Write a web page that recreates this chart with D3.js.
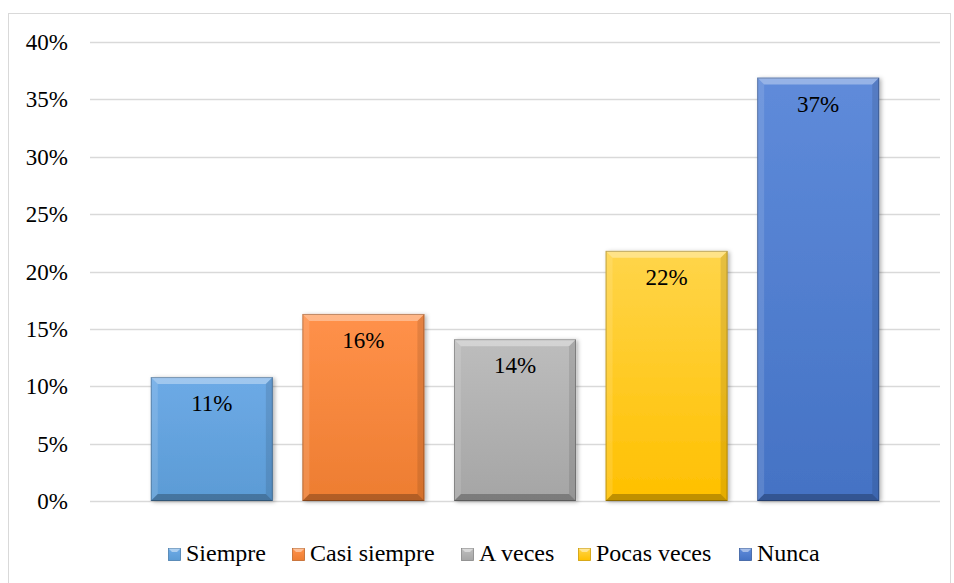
<!DOCTYPE html>
<html><head><meta charset="utf-8">
<script src="https://cdn.jsdelivr.net/npm/d3@7"></script>
<style>body{margin:0;background:#fff}svg{display:block}
text{font-family:"Liberation Serif","Times New Roman",serif !important;}
</style>
</head><body>
<script>
const categories = ["Siempre","Casi siempre","A veces","Pocas veces","Nunca"];
const values = [0.108, 0.163, 0.141, 0.218, 0.369];
const valueLabels = ["11%","16%","14%","22%","37%"];
const yTicks = [0,0.05,0.10,0.15,0.20,0.25,0.30,0.35,0.40];
const colors = ["#5B9BD5","#ED7D31","#A5A5A5","#FFC000","#4472C4"];
const lightColors = ["#6DAAE6","#FF914A","#BDBDBD","#FFD54A","#5F8BDA"];

const W=954,H=583;
const svg=d3.select("body").append("svg").attr("width",W).attr("height",H)
  .attr("font-family","Times New Roman");
const defs=svg.append("defs");
const FF="Times New Roman";

svg.append("rect").attr("x",8.5).attr("y",13.5).attr("width",942).attr("height",600)
  .attr("fill","#fff").attr("stroke","#d9d9d9").attr("stroke-width",1);

const y=d3.scaleLinear().domain([0,0.4]).range([501,42]);
const x=d3.scaleBand().domain(categories).range([136,894]).paddingInner(0.195).paddingOuter(0.0975);

svg.append("g").selectAll("line").data(yTicks).join("line")
  .attr("x1",90).attr("x2",940)
  .attr("y1",d=>Math.round(y(d))+0.5).attr("y2",d=>Math.round(y(d))+0.5)
  .attr("stroke","#d9d9d9").attr("stroke-width",1.3);

const yAxis=d3.axisLeft(y).tickValues(yTicks).tickFormat(d3.format(".0%")).tickSize(0).tickPadding(0);
const ga=svg.append("g").attr("transform","translate(68,0)").call(yAxis);
ga.select(".domain").remove();
ga.attr("font-family",FF).attr("font-size",23);
ga.selectAll("text").attr("font-family",FF).attr("font-size",23).attr("fill","#000")
  .attr("dy",null).attr("y",7.5);

categories.forEach((c,i)=>{
  const g=defs.append("linearGradient").attr("id","g"+i).attr("x1",0).attr("y1",0).attr("x2",0).attr("y2",1);
  g.append("stop").attr("offset","0%").attr("stop-color",lightColors[i]);
  g.append("stop").attr("offset","100%").attr("stop-color",colors[i]);
});
const f=defs.append("filter").attr("id","sh").attr("x","-10%").attr("y","-10%").attr("width","130%").attr("height","130%");
f.append("feDropShadow").attr("dx",2).attr("dy",1).attr("stdDeviation",2).attr("flood-color","#000").attr("flood-opacity",0.3);

const bars=svg.append("g").selectAll("g").data(categories).join("g");
const bw=x.bandwidth(), b=7;
bars.append("rect")
  .attr("x",d=>x(d)).attr("y",(d,i)=>y(values[i]))
  .attr("width",bw).attr("height",(d,i)=>y(0)-y(values[i]))
  .attr("fill",(d,i)=>`url(#g${i})`).attr("filter","url(#sh)");
function bev(sel, fn, fill){
  sel.append("path").attr("d",(d,i)=>{
    const x0=x(d),x1=x0+bw,y0=y(values[i]),y1=y(0);
    return fn(x0,x1,y0,y1);
  }).attr("fill",fill);
}
bev(bars,(x0,x1,y0,y1)=>`M${x0},${y0}L${x1},${y0}L${x1-b},${y0+b}L${x0+b},${y0+b}Z`,"rgba(255,255,255,0.35)");
bev(bars,(x0,x1,y0,y1)=>`M${x0},${y0}L${x0+b},${y0+b}L${x0+b},${y1-b}L${x0},${y1}Z`,"rgba(255,255,255,0.12)");
bev(bars,(x0,x1,y0,y1)=>`M${x1},${y0}L${x1},${y1}L${x1-b},${y1-b}L${x1-b},${y0+b}Z`,"rgba(0,0,0,0.10)");
bev(bars,(x0,x1,y0,y1)=>`M${x0},${y1}L${x0+b},${y1-b}L${x1-b},${y1-b}L${x1},${y1}Z`,"rgba(0,0,0,0.25)");
bars.append("rect")
  .attr("x",d=>x(d)+0.5).attr("y",(d,i)=>y(values[i])+0.5)
  .attr("width",bw-1).attr("height",(d,i)=>y(0)-y(values[i])-1)
  .attr("fill","none").attr("stroke","rgba(0,0,0,0.25)").attr("stroke-width",1);

bars.append("text").attr("x",d=>x(d)+bw/2).attr("y",(d,i)=>y(values[i])+34)
  .attr("text-anchor","middle").attr("font-family",FF).attr("font-size",23).attr("fill","#000")
  .text((d,i)=>valueLabels[i]);

const legX=[168,292,461,578,739];
const leg=svg.append("g").selectAll("g").data(categories).join("g")
  .attr("transform",(d,i)=>`translate(${legX[i]},548)`);
leg.append("rect").attr("x",0.5).attr("y",0.5).attr("width",12).attr("height",12).attr("fill",(d,i)=>`url(#g${i})`)
  .attr("stroke",(d,i)=>d3.color(colors[i]).darker(0.6)).attr("stroke-width",0.8);
leg.append("path").attr("d","M0.5,0.5L12.5,0.5L9,4L4,4Z").attr("fill","rgba(255,255,255,0.45)");
leg.append("text").attr("x",18).attr("y",13).attr("font-family",FF).attr("font-size",24).attr("fill","#000").text(d=>d);
</script>
</body></html>
